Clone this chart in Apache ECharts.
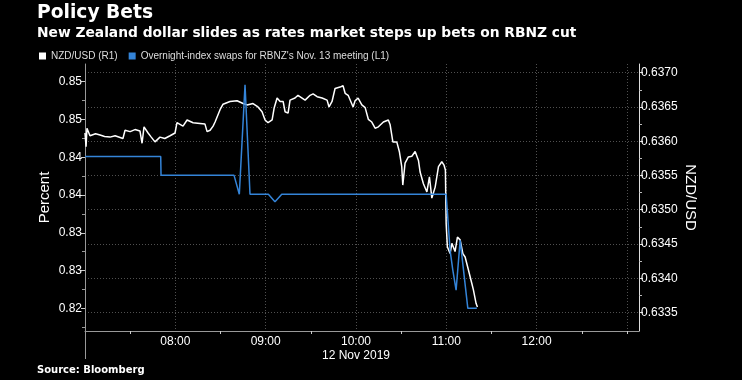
<!DOCTYPE html>
<html>
<head>
<meta charset="utf-8">
<script src="https://cdn.jsdelivr.net/npm/echarts@6/dist/echarts.min.js"></script>
<style>
html,body{margin:0;padding:0;background:#000;}
#chart{width:742px;height:380px;}
</style>
</head>
<body>
<div id="chart"></div>
<script>
// ---- Data ----
var titleText = 'Policy Bets';
var subtitleText = 'New Zealand dollar slides as rates market steps up bets on RBNZ cut';
var sourceText = 'Source: Bloomberg';
var seriesNames = ['NZD/USD (R1)', "Overnight-index swaps for RBNZ's Nov. 13 meeting (L1)"];

// x axis: minutes since midnight, 12 Nov 2019
var xMin = 420, xMax = 788;
var xLabelValues = [480, 540, 600, 660, 720];
var xTickLabels = ['08:00', '09:00', '10:00', '11:00', '12:00'];
var xGridValues = [480, 540, 600, 660, 720, 780];
var xMinorTickValues = [450, 510, 570, 630, 690, 750, 780];
var dateLabel = '12 Nov 2019';

// left axis (Percent)
var leftMin = 0.8170, leftMax = 0.85234;
var leftTickValues = [0.850, 0.845, 0.840, 0.835, 0.830, 0.825, 0.820];
var leftTickLabels = ['0.85', '0.85', '0.84', '0.84', '0.83', '0.83', '0.82'];
var leftMinorTicks = [0.8475, 0.8425, 0.8375, 0.8325, 0.8275, 0.8225, 0.8175];

// right axis (NZD/USD)
var rightMin = 0.63323, rightMax = 0.637127;
var rightTickValues = [0.6370, 0.6365, 0.6360, 0.6355, 0.6350, 0.6345, 0.6340, 0.6335];
var rightTickLabels = ['0.6370', '0.6365', '0.6360', '0.6355', '0.6350', '0.6345', '0.6340', '0.6335'];
var rightMinorTicks = [0.63675, 0.63625, 0.63575, 0.63525, 0.63475, 0.63425, 0.63375];

// NZD/USD [minute, rate]
var nzdUsd = [
[420.0,0.63612],[420.7,0.63592],[421.3,0.63619],[423.3,0.63608],[427,0.63611],[430.0,0.63609],[433,0.63607],
[436.6,0.63606],[440,0.63608],[445.2,0.63604],[446.6,0.63616],[450,0.63614],[453.2,0.63617],[456.5,0.63615],
[457.9,0.63597],[459.2,0.63621],[461.9,0.63612],[464,0.63606],[466.5,0.63599],[469.8,0.63606],[473,0.63604],
[476.5,0.63608],[479.8,0.63612],[481.1,0.63627],[485.1,0.63622],[487.8,0.63631],[491.8,0.63627],[496.4,0.63626],
[499.7,0.63625],[501.1,0.63614],[503.1,0.63616],[505.1,0.63622],[506.4,0.63628],[509.7,0.63646],[511.7,0.63654],
[516.3,0.63658],[521.0,0.63659],[525.0,0.63655],[527.6,0.63653],[531.6,0.63655],[534.9,0.63650],[537.6,0.63643],
[539.6,0.63631],[541.6,0.63627],[544.3,0.63631],[545.6,0.63648],[547.6,0.63663],[549.6,0.63658],[551.6,0.63658],
[552.9,0.63643],[554.9,0.63641],[556.2,0.63660],[559.5,0.63663],[561.5,0.63667],[564.2,0.63663],[566.2,0.63660],
[569.5,0.63667],[571.5,0.63669],[574.2,0.63665],[577.5,0.63663],[580.8,0.63660],[582.1,0.63650],[584.1,0.63658],
[586.1,0.63677],[589.4,0.63679],[591.4,0.63681],[592.8,0.63670],[594.8,0.63667],[598.1,0.63650],[599.4,0.63659],
[601.4,0.63663],[603.9,0.63653],[606.1,0.63649],[608.2,0.63632],[610.5,0.63628],[612.7,0.63619],[614.9,0.63621],
[618.2,0.63628],[621.5,0.63631],[622.7,0.63624],[624.5,0.63599],[627.1,0.63599],[628.8,0.63585],[630.4,0.63563],
[631.1,0.63536],[632.6,0.63568],[634.8,0.63577],[637.1,0.63578],[639.3,0.63585],[641.5,0.63572],[642.6,0.63555],
[644.8,0.63538],[647.1,0.63526],[648.8,0.63548],[650.4,0.63517],[652.6,0.63533],[654.8,0.63563],[657.0,0.63570],
[658.5,0.63565],[659.4,0.63558],[659.9,0.63480],[660.7,0.63446],[662.5,0.63436],[663.7,0.63451],[665.8,0.63439],
[667.4,0.63460],[669.2,0.63456],[671.0,0.63436],[672.5,0.63431],[674.7,0.63412],[677.0,0.63392],[678.0,0.63383],
[679.8,0.63363],[680.7,0.63358]
];

// OIS implied rate [minute, percent]
var oisRate = [
[420,0.8401],[470.3,0.8401],[470.5,0.8376],[519,0.8376],[522.5,0.8351],[526.3,0.8496],[529.6,0.8351],
[541.8,0.8351],[546.2,0.8341],[550.7,0.8351],[659.9,0.8351],[662.5,0.8277],[664.3,0.8251],[666.5,0.8224],
[669.2,0.8290],[674.3,0.8200],[680.3,0.8200]
];

// ---- Chart ----
var chart = echarts.init(document.getElementById('chart'), null, {renderer: 'canvas'});
var gridColor = '#505050';
var labelFont = 'Liberation Sans';

function lookup(vals, labels, v){
  for (var i = 0; i < vals.length; i++) { if (Math.abs(vals[i] - v) < 1e-9) return labels[i]; }
  return '';
}

var option = {
  backgroundColor: '#000',
  animation: false,
  title: [
    {text: titleText, left: 37, top: 4, padding: 0,
     textStyle: {color: '#fff', fontFamily: 'DejaVu Sans', fontWeight: 'bold', fontSize: 18.7}},
    {text: subtitleText, left: 37, top: 26, padding: 0,
     textStyle: {color: '#fff', fontFamily: 'DejaVu Sans', fontWeight: 'bold', fontSize: 13.8}},
    {text: sourceText, left: 37, top: 365, padding: 0,
     textStyle: {color: '#fff', fontFamily: 'DejaVu Sans', fontWeight: 'bold', fontSize: 10}}
  ],
  legend: {
    left: 39, top: 51, padding: 0,
    itemWidth: 7, itemHeight: 7, itemGap: 11,
    icon: 'rect',
    textStyle: {color: '#ddd', fontFamily: labelFont, fontSize: 10},
    data: [
      {name: seriesNames[0], itemStyle: {color: '#fff'}},
      {name: seriesNames[1], itemStyle: {color: '#3484d8'}}
    ]
  },
  grid: {left: 85, right: 103, top: 64, bottom: 49},
  xAxis: [
    {
      type: 'value', min: xMin, max: xMax, position: 'bottom',
      axisLine: {show: true, onZero: false, lineStyle: {color: '#999', width: 1}},
      axisTick: {show: false, customValues: xGridValues},
      axisLabel: {
        customValues: xLabelValues, color: '#fff', fontFamily: labelFont, fontSize: 12,
        margin: 3, lineHeight: 14.5, align: 'center',
        formatter: function (v) {
          var lbl = lookup(xLabelValues, xTickLabels, v);
          if (Math.abs(v - 600) < 1e-9) lbl += '\n' + dateLabel;
          return lbl;
        }
      },
      splitLine: {show: true, lineStyle: {color: gridColor, type: [1, 2], width: 1}}
    },
    {
      type: 'value', min: xMin, max: xMax, position: 'bottom',
      axisLine: {show: false, onZero: false},
      axisTick: {show: true, customValues: xMinorTickValues, length: 3, lineStyle: {color: '#ccc'}},
      axisLabel: {show: false},
      splitLine: {show: false}
    },
    {
      type: 'value', min: xMin, max: xMax, position: 'bottom',
      axisLine: {show: false, onZero: false},
      axisTick: {show: true, customValues: [xMin], length: 28, lineStyle: {color: '#999'}},
      axisLabel: {show: false},
      splitLine: {show: false}
    }
  ],
  yAxis: [
    {
      type: 'value', min: leftMin, max: leftMax, position: 'left',
      name: 'Percent', nameLocation: 'middle', nameGap: 33, nameMoveOverlap: false,
      nameTextStyle: {color: '#fff', fontFamily: labelFont, fontSize: 15},
      axisLine: {show: true, onZero: false, lineStyle: {color: '#999'}},
      axisTick: {show: true, customValues: leftTickValues, length: 4, lineStyle: {color: '#ccc'}},
      axisLabel: {customValues: leftTickValues, color: '#fff', fontFamily: labelFont, fontSize: 12, margin: 3,
        formatter: function (v) { return lookup(leftTickValues, leftTickLabels, v); }},
      splitLine: {show: false}
    },
    {
      type: 'value', min: rightMin, max: rightMax, position: 'right',
      name: 'NZD/USD', nameLocation: 'middle', nameGap: 44, nameRotate: -90, nameMoveOverlap: false,
      nameTextStyle: {color: '#fff', fontFamily: labelFont, fontSize: 15},
      axisLine: {show: true, onZero: false, lineStyle: {color: '#ddd'}},
      axisTick: {show: true, customValues: rightTickValues, length: 4, lineStyle: {color: '#ddd'}},
      axisLabel: {customValues: rightTickValues, color: '#fff', fontFamily: labelFont, fontSize: 12, margin: 2,
        formatter: function (v) { return lookup(rightTickValues, rightTickLabels, v); }},
      splitLine: {show: true, lineStyle: {color: gridColor, type: [1, 2], width: 1}}
    },
    {
      type: 'value', min: leftMin, max: leftMax, position: 'left',
      axisLine: {show: false, onZero: false},
      axisTick: {show: true, customValues: leftMinorTicks, length: 3, lineStyle: {color: '#999'}},
      axisLabel: {show: false}, splitLine: {show: false}
    },
    {
      type: 'value', min: rightMin, max: rightMax, position: 'right',
      axisLine: {show: false, onZero: false},
      axisTick: {show: true, customValues: rightMinorTicks, length: 3, lineStyle: {color: '#bbb'}},
      axisLabel: {show: false}, splitLine: {show: false}
    }
  ],
  series: [
    {
      name: seriesNames[0], type: 'line', xAxisIndex: 0, yAxisIndex: 1,
      data: nzdUsd, symbol: 'none', showSymbol: false,
      lineStyle: {color: '#fff', width: 1.5}, itemStyle: {color: '#fff'}
    },
    {
      name: seriesNames[1], type: 'line', xAxisIndex: 0, yAxisIndex: 0,
      data: oisRate, symbol: 'none', showSymbol: false,
      lineStyle: {color: '#3484d8', width: 1.5}, itemStyle: {color: '#3484d8'}
    }
  ]
};
chart.setOption(option);
</script>
</body>
</html>
